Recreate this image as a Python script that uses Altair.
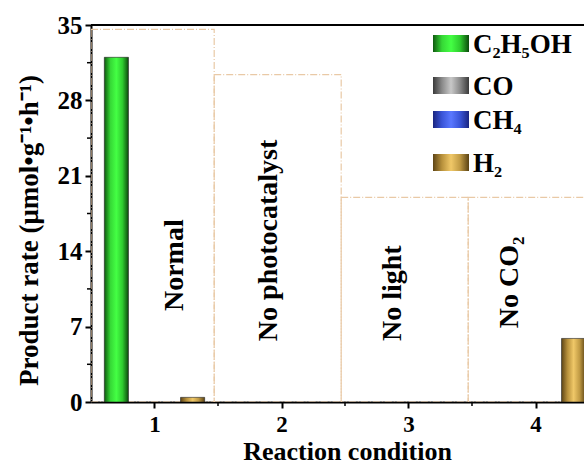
import altair as alt
import pandas as pd

# Product rates (umol g^-1 h^-1) for each reaction condition
conditions = [1, 2, 3, 4]
c2h5oh = [32.0, 0.0, 0.0, 0.0]
co = [0.0, 0.0, 0.0, 0.0]
ch4 = [0.0, 0.0, 0.0, 0.0]
h2 = [0.43, 0.0, 0.0, 5.9]

series_names = ["C2H5OH", "CO", "CH4", "H2"]
series_labels = ["C₂H₅OH", "CO", "CH₄", "H₂"]
series_values = [c2h5oh, co, ch4, h2]

# Condition panels (dash-dot boxes) and their labels
panel_left = [0.5, 1.47, 2.47, 3.47]
panel_right = [1.47, 2.47, 3.47, 4.47]
panel_top = [34.6, 30.4, 19.0, 19.0]
panel_text = ["Normal", "No photocatalyst", "No light", "No CO₂"]
panel_text_x = [1.165, 1.9, 2.88, 3.8]
panel_text_y = [12.7, 15.0, 10.1, 11.1]

y_ticks = [0, 7, 14, 21, 28, 35]
y_minor = [3.5, 10.5, 17.5, 24.5, 31.5]
x_minor = [1.5, 2.5, 3.5]

FONT = "Liberation Serif"
W, H = 493, 377
X_DOMAIN = [0.5, 0.5 + W / 127.0]

# cylinder-like horizontal gradients per product
gradients = {
    "C2H5OH": ["#0f5a0f", "#36d836", "#44ff44", "#2ecc2e", "#0c4a0c"],
    "CO": ["#3a3a3a", "#8a8a8a", "#c8c8c8", "#8a8a8a", "#3a3a3a"],
    "CH4": ["#1a2580", "#3a55d8", "#5a78ff", "#3a55d8", "#1a2580"],
    "H2": ["#5e4516", "#b8913c", "#f0c868", "#c09a44", "#5a4214"],
}
bar_offsets = [-0.3, -0.1, 0.1, 0.3]
half_w = 0.095
legend_rows = [18, 60, 94, 137]


def grad(name):
    cols = gradients[name]
    stops = [alt.GradientStop(offset=i / (len(cols) - 1), color=c) for i, c in enumerate(cols)]
    return alt.Gradient(gradient="linear", stops=stops, x1=0, x2=1, y1=0, y2=0)


xs = alt.Scale(domain=X_DOMAIN, nice=False, zero=False)
ys = alt.Scale(domain=[0, 35], nice=False)

x_axis = alt.Axis(
    values=conditions, format="d", title="Reaction condition",
    labelFont=FONT, labelFontSize=23, labelFontWeight="bold", labelColor="black",
    titleFont=FONT, titleFontSize=26, titleFontWeight="bold", titleColor="black",
    titleX=256, titleY=57, titleAlign="center", titleBaseline="alphabetic",
    labelPadding=5, tickSize=6, tickWidth=2, tickColor="black",
    domainColor="black", domainWidth=2, grid=False,
)
y_axis = alt.Axis(
    values=y_ticks, title="Product rate (μmol•g⁻¹•h⁻¹)",
    labelFont=FONT, labelFontSize=25, labelFontWeight="bold", labelColor="black",
    titleFont=FONT, titleFontSize=27, titleFontWeight="bold", titleColor="black",
    titleX=-62, titleY=205, titleAlign="center", titleBaseline="middle", titleAngle=270,
    labelPadding=3, tickSize=6, tickWidth=2, tickColor="black",
    domainColor="black", domainWidth=2, grid=False,
)

panels_df = pd.DataFrame({
    "left": panel_left, "right": panel_right, "top": panel_top,
    "bottom": [0] * 4,
})
panels = alt.Chart(panels_df).mark_rect(
    fill=None, stroke="#e9c9a6", strokeWidth=1.2, strokeDash=[7, 2, 1, 2], clip=True
).encode(
    x=alt.X("left:Q", scale=xs, axis=x_axis),
    x2="right:Q",
    y=alt.Y("bottom:Q", scale=ys, axis=y_axis),
    y2="top:Q",
)

layers = [panels]

for i, (name, label, vals) in enumerate(zip(series_names, series_labels, series_values)):
    df = pd.DataFrame({"cond": conditions, "value": vals})
    df["x1"] = df["cond"] + bar_offsets[i] - half_w
    df["x2"] = df["cond"] + bar_offsets[i] + half_w
    bars = alt.Chart(df).transform_filter("datum.value > 0").mark_rect(
        fill=grad(name), stroke="#222222", strokeWidth=0.6, clip=True
    ).encode(
        x=alt.X("x1:Q", scale=xs),
        x2="x2:Q",
        y=alt.Y("value:Q", scale=ys),
        y2=alt.datum(0),
    )
    layers.append(bars)

    yc = legend_rows[i]
    one = pd.DataFrame({"label": [label]})
    swatch = alt.Chart(one).mark_rect(fill=grad(name)).encode(
        x=alt.value(342), x2=alt.value(378), y=alt.value(yc - 8), y2=alt.value(yc + 9)
    )
    text = alt.Chart(one).mark_text(
        font=FONT, fontSize=27, fontWeight="bold", color="black", align="left", baseline="middle"
    ).encode(x=alt.value(382), y=alt.value(yc + 2), text="label:N")
    layers += [swatch, text]

labels_df = pd.DataFrame({"t": panel_text, "x": panel_text_x, "y": panel_text_y})
panel_labels = alt.Chart(labels_df).mark_text(
    font=FONT, fontSize=28, fontWeight="bold", color="black", angle=270,
    align="center", baseline="middle",
).encode(x=alt.X("x:Q", scale=xs), y=alt.Y("y:Q", scale=ys), text="t:N")
layers.append(panel_labels)

# frame top edge
top_line = alt.Chart(pd.DataFrame({"y": [35]})).mark_rule(color="black", strokeWidth=2).encode(
    y=alt.Y("y:Q", scale=ys), x=alt.value(0), x2=alt.value(W)
)
# minor ticks
y_minor_ticks = alt.Chart(pd.DataFrame({"y": y_minor})).mark_rule(color="black", strokeWidth=1.5).encode(
    y=alt.Y("y:Q", scale=ys), x=alt.value(-4), x2=alt.value(0)
)
x_minor_ticks = alt.Chart(pd.DataFrame({"x": x_minor})).mark_rule(color="black", strokeWidth=1.5).encode(
    x=alt.X("x:Q", scale=xs), y=alt.value(H), y2=alt.value(H + 4)
)
layers += [top_line, y_minor_ticks, x_minor_ticks]

chart = alt.layer(*layers).properties(
    width=W, height=H,
    autosize=alt.AutoSizeParams(type="none"),
    padding={"left": 91, "top": 25, "right": 0, "bottom": 62},
    background="white",
).configure_view(stroke=None)

chart.save("out.html", embed_options={"renderer": "svg", "actions": False})
